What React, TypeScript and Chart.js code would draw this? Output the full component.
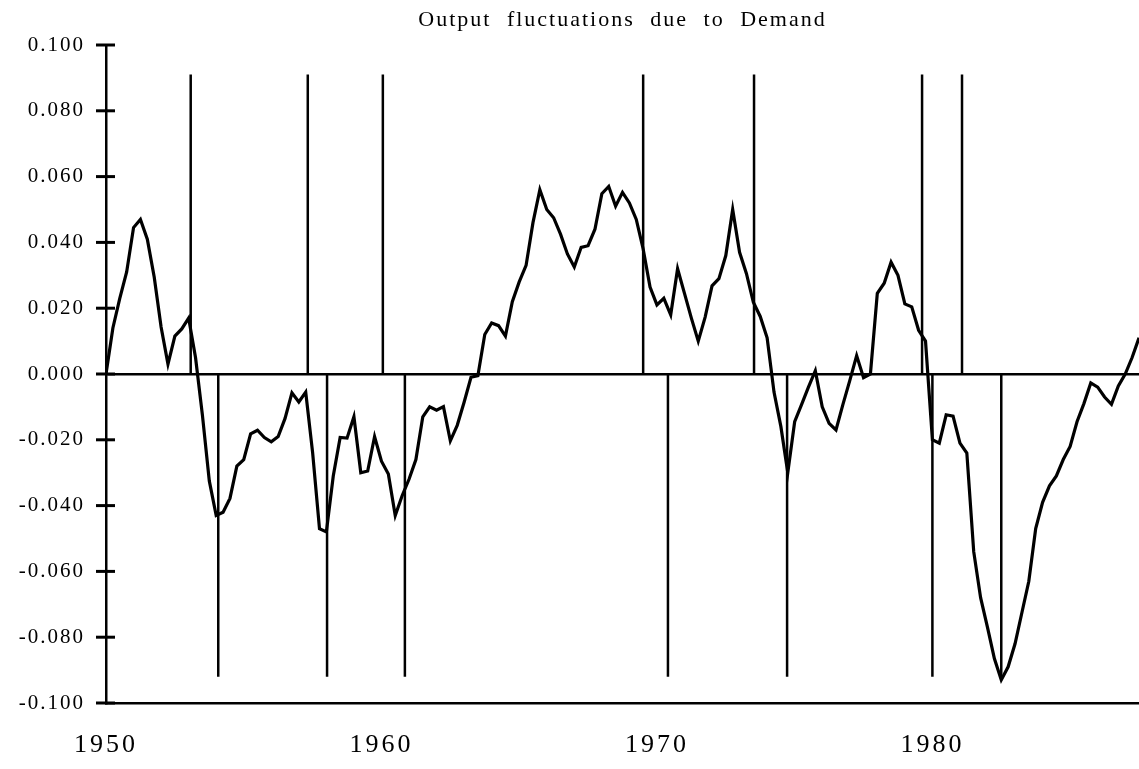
import React, { useEffect, useRef } from 'react';
import { Chart, registerables } from 'chart.js';

Chart.register(...registerables);

// Quarterly output fluctuations due to demand, 1950Q2 .. 1987Q4 (index 0 = 1950Q2)
const demand: number[] = [
  0.000, 0.014, 0.023, 0.031, 0.0445, 0.047, 0.041, 0.0295, 0.0143, 0.003,
  0.0115, 0.0137, 0.017, 0.005, -0.0125, -0.0325, -0.043, -0.042, -0.0378, -0.028,
  -0.026, -0.0182, -0.0171, -0.0193, -0.0206, -0.019, -0.0135, -0.0057, -0.0085, -0.0055,
  -0.0238, -0.047, -0.048, -0.031, -0.0193, -0.0195, -0.013, -0.030, -0.0295, -0.019,
  -0.0265, -0.0304, -0.043, -0.037, -0.032, -0.026, -0.013, -0.010, -0.011, -0.0099,
  -0.0203, -0.0156, -0.0086, -0.001, -0.0005, 0.012, 0.0155, 0.0147, 0.0115, 0.022,
  0.028, 0.033, 0.046, 0.056, 0.050, 0.0475, 0.0425, 0.0365, 0.0325, 0.0385,
  0.039, 0.044, 0.0548, 0.057, 0.051, 0.0552, 0.052, 0.047, 0.038, 0.0264,
  0.021, 0.023, 0.018, 0.032, 0.0245, 0.017, 0.010, 0.0173, 0.0268, 0.029,
  0.036, 0.050, 0.037, 0.0305, 0.0218, 0.0175, 0.011, -0.0055, -0.016, -0.030,
  -0.0145, -0.0093, -0.004, 0.001, -0.010, -0.015, -0.017, -0.0093, -0.002, 0.0056,
  -0.0011, 0.000, 0.0245, 0.0276, 0.034, 0.030, 0.0213, 0.0204, 0.0133, 0.010,
  -0.020, -0.021, -0.0124, -0.0128, -0.021, -0.024, -0.054, -0.068, -0.077, -0.0865,
  -0.093, -0.089, -0.082, -0.0725, -0.063, -0.047, -0.039, -0.034, -0.031, -0.026,
  -0.022, -0.0145, -0.009, -0.0027, -0.004, -0.007, -0.0092, -0.0036, 0.000, 0.005,
  0.011,
];

// Business-cycle markers (quarter index from 1950Q2)
const peakQuarters: number[] = [12.3, 29.3, 40.2, 78.0, 94.1, 118.5, 124.3];
const troughQuarters: number[] = [16.3, 32.1, 43.4, 81.6, 98.9, 120.0, 130.0];
const peakMarkerHeight = 0.091;
const troughMarkerDepth = -0.092;

const xTickPositions: number[] = [0, 40, 80, 120];
const xTickLabels: string[] = ['1950', '1960', '1970', '1980'];

const yMin = -0.1;
const yMax = 0.1;
const yStep = 0.02;

const titleText = 'Output fluctuations due to Demand';

function markerPoints(xs: number[], h: number) {
  const pts: { x: number; y: number | null }[] = [];
  xs.forEach((x) => {
    pts.push({ x, y: 0 });
    pts.push({ x, y: h });
    pts.push({ x, y: null });
  });
  return pts;
}

const textStylePlugin = {
  id: 'textStyle',
  beforeDraw(chart: any) {
    const ctx = chart.ctx as any;
    ctx.letterSpacing = '2px';
    ctx.wordSpacing = '8px';
  },
  afterDatasetsDraw(chart: any) {
    const ctx = chart.ctx as any;
    ctx.letterSpacing = '3px';
    ctx.wordSpacing = '0px';
  },
  afterDraw(chart: any) {
    const ctx = chart.ctx as any;
    const ys = chart.scales.y;
    ctx.save();
    ctx.letterSpacing = '0px';
    ctx.wordSpacing = '0px';
    ctx.strokeStyle = '#000';
    ctx.lineWidth = 3;
    ys.ticks.forEach((t: any) => {
      const py = ys.getPixelForValue(t.value);
      ctx.beginPath();
      ctx.moveTo(ys.right - 10, py);
      ctx.lineTo(ys.right + 9, py);
      ctx.stroke();
    });
    ctx.restore();
    ctx.letterSpacing = '0px';
    ctx.wordSpacing = '0px';
  },
};

export default function App() {
  const ref = useRef<HTMLCanvasElement | null>(null);

  useEffect(() => {
    if (!ref.current) return;
    const serif = 'Liberation Serif';
    const chart = new Chart(ref.current, {
      type: 'line',
      data: {
        datasets: [
          {
            data: markerPoints(peakQuarters, peakMarkerHeight) as any,
            borderColor: '#000',
            borderWidth: 2.5,
            pointRadius: 0,
            spanGaps: false,
          },
          {
            data: markerPoints(troughQuarters, troughMarkerDepth) as any,
            borderColor: '#000',
            borderWidth: 2.5,
            pointRadius: 0,
            spanGaps: false,
          },
          {
            data: demand.map((v, i) => ({ x: i, y: v })),
            borderColor: '#000',
            borderWidth: 3.2,
            pointRadius: 0,
            tension: 0,
          },
        ],
      },
      options: {
        responsive: false,
        animation: false,
        events: [],
        layout: { padding: 0 },
        plugins: {
          legend: { display: false },
          tooltip: { enabled: false },
          title: {
            display: true,
            text: titleText,
            fullSize: false,
            color: '#000',
            font: { family: serif, size: 22, weight: 'normal', lineHeight: '25px' } as any,
            padding: { top: 8, bottom: 12 },
          },
        },
        scales: {
          x: {
            type: 'linear',
            min: 0,
            max: demand.length - 1,
            afterFit: (s: any) => {
              s.height = 66;
            },
            afterBuildTicks: (s: any) => {
              s.ticks = xTickPositions.map((v) => ({ value: v }));
            },
            ticks: {
              z: 1,
              autoSkip: false,
              maxRotation: 0,
              padding: 27,
              color: '#000',
              font: { family: serif, size: 26 },
              callback: (v: any) => {
                const k = xTickPositions.indexOf(Number(v));
                return k >= 0 ? xTickLabels[k] : '';
              },
            },
            grid: { display: false, drawTicks: false },
            border: { display: true, color: '#000', width: 2.5 },
          },
          y: {
            type: 'linear',
            min: yMin,
            max: yMax,
            afterFit: (s: any) => {
              s.width = 106;
            },
            ticks: {
              stepSize: yStep,
              padding: 21,
              color: '#000',
              font: { family: serif, size: 21 },
              callback: (v: any) => {
                const n = Number(v);
                return Math.abs(n) < 1e-9 ? '0.000' : n.toFixed(3);
              },
            },
            grid: {
              drawTicks: false,
              lineWidth: 2.5,
              color: (c: any) =>
                c.tick && Math.abs(c.tick.value) < 1e-9 ? '#000' : 'rgba(0,0,0,0)',
            },
            border: { display: true, color: '#000', width: 2.5 },
          },
        },
      },
      plugins: [textStylePlugin],
    });
    return () => chart.destroy();
  }, []);

  return (
    <div style={{ position: 'absolute', left: 0, top: 0, width: 1139, height: 769, background: '#fff' }}>
      <canvas ref={ref} width={1139} height={769} style={{ width: 1139, height: 769, display: 'block' }} />
    </div>
  );
}
